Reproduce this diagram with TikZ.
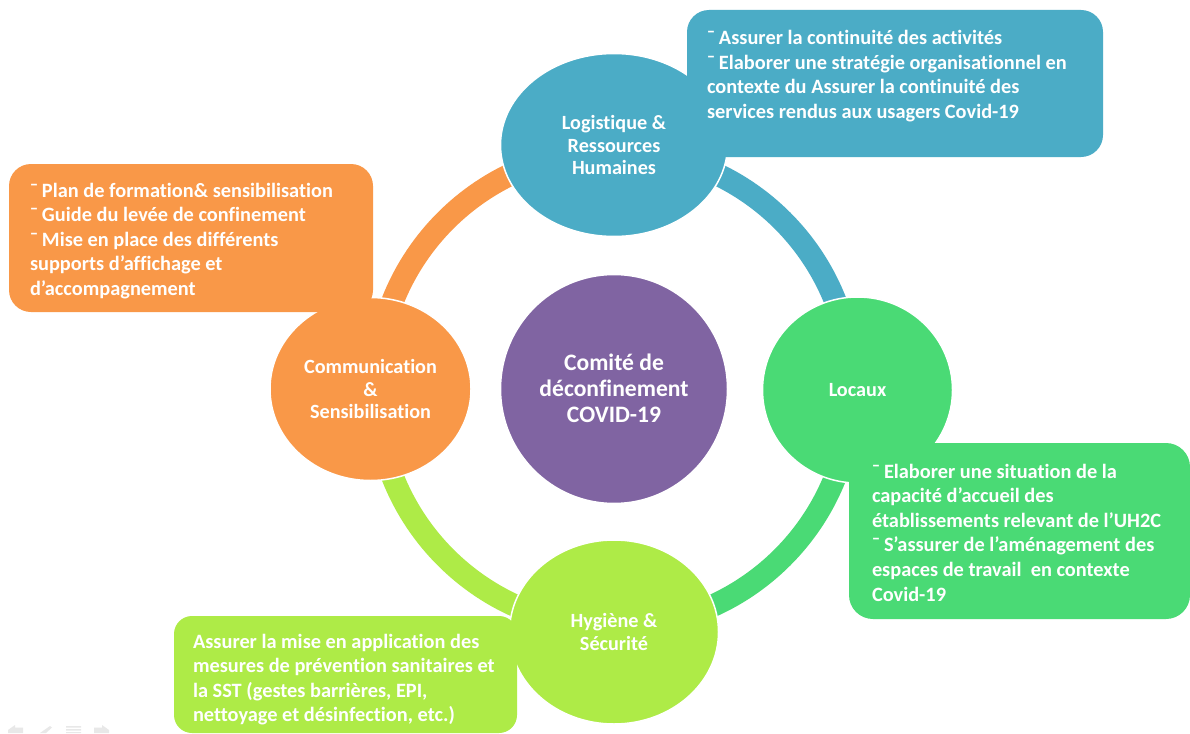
\documentclass[tikz,border=0pt]{standalone}
\usepackage{fontspec}
\setmainfont{Carlito}[Ligatures=NoCommon]
\usetikzlibrary{shapes.geometric}
\definecolor{cblue}{HTML}{4BACC6}
\definecolor{cgreen}{HTML}{4ADA75}
\definecolor{clime}{HTML}{AEEB47}
\definecolor{corange}{HTML}{F99848}
\definecolor{cpurple}{HTML}{8064A2}
\newcommand{\dashmark}{\makebox[12pt][l]{¯}}
% body of a callout: width, height, first baseline, text
\newcommand{\calloutbody}[4]{\parbox[c][#2pt][t]{#1pt}{\fontsize{20.35}{24.6}\selectfont\bfseries\raggedright\rule{0pt}{#3pt}#4}}
\tikzset{
  hub/.style={ellipse,inner sep=0pt,outer sep=0pt,draw=white,line width=1.5pt,text=white,align=center,font=\fontsize{20.2}{22.5}\selectfont\bfseries},
  ringarc/.style={line width=22.5pt,line cap=butt},
  callout/.style={rectangle,rounded corners=#1,inner ysep=0pt,inner xsep=20pt,outer sep=0pt,text=white,anchor=north west},
  navicon/.style={fill=black!9,draw=none}
}
\begin{document}
\begin{tikzpicture}[x=1pt,y=-1pt]
\useasboundingbox (0,0) rectangle (1190,733);
\fill[white] (0,0) rectangle (1190,733);
% points of the ring, hidden under the hubs
\coordinate (ringT) at (614,151);
\coordinate (ringR) at (852,389);
\coordinate (ringB) at (614,627);
\coordinate (ringL) at (376,389);
\draw[ringarc,cblue] (ringT) to[bend left=45] (ringR);
\draw[ringarc,cgreen] (ringR) to[bend left=45] (ringB);
\draw[ringarc,clime] (ringB) to[bend left=45] (ringL);
\draw[ringarc,corange] (ringL) to[bend left=45] (ringT);
% hubs
\node[hub,fill=cblue,minimum width=227pt,minimum height=183pt] (top) at (614,145) {Logistique \&\\Ressources\\Humaines};
\node[hub,fill=cgreen,minimum width=190pt,minimum height=186pt] (right) at (857.5,390) {Locaux};
\node[hub,fill=clime,minimum width=209pt,minimum height=184pt] (bottom) at (614,632) {Hygiène \&\\Sécurité};
\node[hub,fill=corange,minimum width=201pt,minimum height=183pt,text depth=0pt] (left) at (370.5,389) {Communication\\\&\\Sensibilisation};
\node[hub,fill=cpurple,minimum width=227pt,minimum height=229pt,font=\fontsize{23.6}{26}\selectfont\bfseries] (centre) at (614,389) {\raisebox{1pt}{Comité de}\\\raisebox{1pt}{déconfinement}\\\raisebox{1pt}{COVID-19}};
% callouts
\node[callout=22pt,fill=cblue] (noteTop) at (687,10) {\calloutbody{376}{147}{34.5}{\dashmark Assurer la continuité des activités\\\dashmark Elaborer une stratégie organisationnel en\\contexte du Assurer la continuité des\\services rendus aux usagers Covid-19}};
\node[callout=22pt,fill=corange,inner xsep=21pt] (noteLeft) at (9,164) {\calloutbody{322}{148}{33}{\dashmark Plan de formation\& sensibilisation\\\dashmark Guide du levée de confinement\\\dashmark Mise en place des différents\\supports d’affichage et\\d’accompagnement}};
\node[callout=24pt,fill=cgreen,inner xsep=23pt] (noteRight) at (849,443) {\calloutbody{295}{176}{35}{\dashmark Elaborer une situation de la\\capacité d’accueil des\\établissements relevant de l’UH2C\\\dashmark S’assurer de l’aménagement des\\espaces de travail\ \ en contexte\\Covid-19}};
\node[callout=18pt,fill=clime,inner xsep=19pt] (noteBottom) at (174,616) {\calloutbody{305}{117}{32}{Assurer la mise en application des\\mesures de prévention sanitaires et\\la SST (gestes barrières, EPI,\\nettoyage et désinfection, etc.)}};
% faint slide-show controls, bottom left
\fill[navicon] (8,730) -- (15,725) -- (15,727.5) -- (23,727.5) -- (23,733) -- (8,733) -- cycle;
\fill[navicon] (40,733) -- (50,726) -- (52,727.5) -- (46,733) -- cycle;
\fill[navicon] (66,726) rectangle (81,727.5) (66,729) rectangle (81,730.5) (66,732) rectangle (81,733);
\fill[navicon] (109,730) -- (102,725) -- (102,727.5) -- (94,727.5) -- (94,733) -- (109,733) -- cycle;
\end{tikzpicture}
\end{document}
